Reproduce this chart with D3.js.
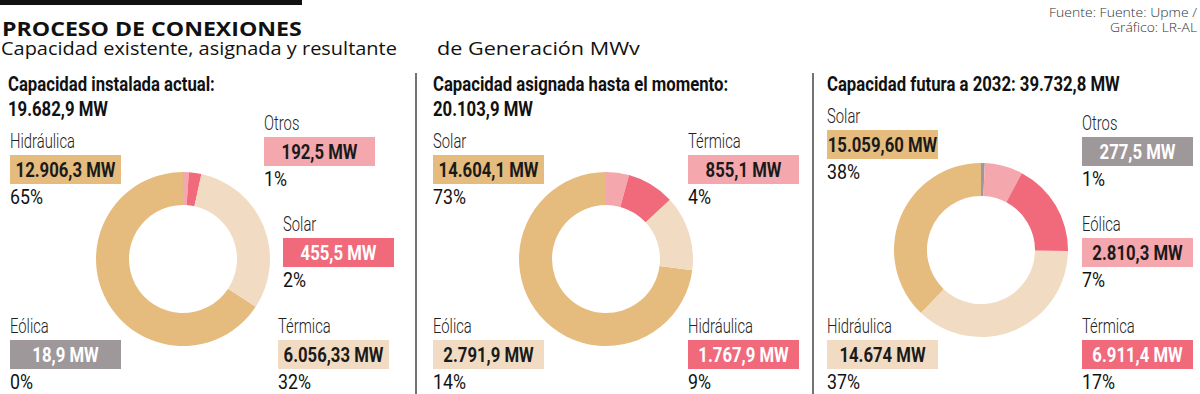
<!DOCTYPE html>
<html><head><meta charset="utf-8">
<script src="https://cdn.jsdelivr.net/npm/d3@7/dist/d3.min.js"></script>
<style>
html,body{margin:0;padding:0;background:#fff;}
svg{display:block;}
</style></head>
<body>
<svg id="chart" width="1200" height="394"></svg>
<script>
// ---- DATA ----
const chartTitle = "PROCESO DE CONEXIONES";
const chartSubtitle = "Capacidad existente, asignada y resultante";
const chartSubtitle2 = "de Generación MWv";
const sourceLines = ["Fuente: Fuente: Upme /", "Gráfico: LR-AL"];

const panelTitles = ["Capacidad instalada actual:", "Capacidad asignada hasta el momento:", "Capacidad futura a 2032: 39.732,8 MW"];
const panelTotals = ["19.682,9 MW", "20.103,9 MW", ""];

const categories1 = ["Hidráulica", "Otros", "Solar", "Eólica", "Térmica"];
const values1 = [12906.3, 192.5, 455.5, 18.9, 6056.33];
const valueLabels1 = ["12.906,3 MW", "192,5 MW", "455,5 MW", "18,9 MW", "6.056,33 MW"];
const percents1 = ["65%", "1%", "2%", "0%", "32%"];

const categories2 = ["Solar", "Térmica", "Eólica", "Hidráulica"];
const values2 = [14604.1, 855.1, 2791.9, 1767.9];
const valueLabels2 = ["14.604,1 MW", "855,1 MW", "2.791,9 MW", "1.767,9 MW"];
const percents2 = ["73%", "4%", "14%", "9%"];

const categories3 = ["Solar", "Otros", "Eólica", "Hidráulica", "Térmica"];
const values3 = [15059.6, 277.5, 2810.3, 14674, 6911.4];
const valueLabels3 = ["15.059,60 MW", "277,5 MW", "2.810,3 MW", "14.674 MW", "6.911,4 MW"];
const percents3 = ["38%", "1%", "7%", "37%", "17%"];

// ---- STYLE / LAYOUT ----
const rankColors = ["#E5BC7E", "#F1DCC3", "#F06A7C", "#F4A8AE", "#9F989B"];
const rankTextColors = ["#1a1a1a", "#1a1a1a", "#ffffff", "#1a1a1a", "#ffffff"];
const condFont = "Roboto,'Noto Sans',sans-serif";
const humanist = "'Open Sans','Noto Sans',sans-serif";

const panelLayout = [
  { hx: 8, hy: 91, cx: 183, cy: 259,
    slots: [[10,148],[264,130],[283,231],[10,333],[278,333]] },
  { hx: 433, hy: 91, cx: 606, cy: 259,
    slots: [[433,148],[688,148],[433,333],[688,333]] },
  { hx: 827, hy: 91, cx: 981, cy: 250,
    slots: [[827,123],[1082,130],[1082,231],[827,333],[1082,333]] }
];
const boxW = 111, boxH = 29, rOuter = 87, rInner = 54;

const styles = {
  bold:  { weight: 700, size: 20.5, sample: "12.906,3 MW", target: 100 },
  label: { weight: 300, size: 21,   sample: "Hidráulica",  target: 65 },
  pct:   { weight: 400, size: 20.5, sample: "65%",         target: 33 }
};

const panels = [
  {cats: categories1, vals: values1, labs: valueLabels1, pcts: percents1},
  {cats: categories2, vals: values2, labs: valueLabels2, pcts: percents2},
  {cats: categories3, vals: values3, labs: valueLabels3, pcts: percents3}
];

const svg = d3.select("#chart");

function measure(str, family, weight, size) {
  const t = svg.append("text").style("font-family", family).style("font-weight", weight)
    .style("font-size", size + "px").text(str);
  const w = t.node().getComputedTextLength();
  t.remove();
  return w;
}
Object.values(styles).forEach(s => {
  s.k = s.target / measure(s.sample, condFont, s.weight, s.size);
});

// condensed text: horizontally scaled group
function cText(parent, x, y, str, st, fill, anchor) {
  const g = parent.append("g").attr("transform", `translate(${x},${y}) scale(${st.k},1)`);
  g.append("text").attr("x", 0).attr("y", 0).attr("text-anchor", anchor || "start")
    .style("font-family", condFont).style("font-weight", st.weight).style("font-size", st.size + "px")
    .attr("fill", fill).text(str);
  return g;
}
// fitted text: scale horizontally to target width
function fText(parent, x, y, str, family, weight, size, fill, target, anchor) {
  const k = target / measure(str, family, weight, size);
  const g = parent.append("g").attr("transform", `translate(${x},${y}) scale(${k},1)`);
  g.append("text").attr("text-anchor", anchor || "start")
    .style("font-family", family).style("font-weight", weight).style("font-size", size + "px")
    .attr("fill", fill).text(str);
  return g;
}

// top bar
svg.append("rect").attr("x", 0).attr("y", 0).attr("width", 302).attr("height", 5).attr("fill", "#111");

fText(svg, 2, 36, chartTitle, humanist, 700, 19.5, "#111", 300);
fText(svg, 1, 55, chartSubtitle, humanist, 400, 18.5, "#111", 396);
fText(svg, 437, 55, chartSubtitle2, humanist, 400, 18.5, "#111", 203);

fText(svg, 1197, 17, sourceLines[0], humanist, 300, 13, "#333", 148, "end");
fText(svg, 1197, 32, sourceLines[1], humanist, 300, 13, "#333", 87, "end");

// separators
[416, 813].forEach(x => {
  svg.append("line").attr("x1", x).attr("x2", x).attr("y1", 73).attr("y2", 394)
    .attr("stroke", "#444").attr("stroke-width", 1.5);
});

const arc = d3.arc().innerRadius(rInner).outerRadius(rOuter);

panels.forEach((p, pi) => {
  const L = panelLayout[pi];
  const g = svg.append("g");

  cText(g, L.hx, L.hy, panelTitles[pi], styles.bold, "#111");
  if (panelTotals[pi]) cText(g, L.hx, L.hy + 25, panelTotals[pi], styles.bold, "#111");

  const data = p.cats.map((c, i) => ({cat: c, value: p.vals[i], lab: p.labs[i], pct: p.pcts[i]}));
  data.slice().sort((a, b) => b.value - a.value).forEach((d, r) => { d.rank = r; });

  const pie = d3.pie().value(d => d.value).sort((a, b) => a.value - b.value);
  g.append("g").attr("transform", `translate(${L.cx},${L.cy})`)
    .selectAll("path").data(pie(data)).join("path")
    .attr("d", arc).attr("fill", d => rankColors[d.data.rank]);

  data.forEach((d, i) => {
    const [x, y] = L.slots[i];
    cText(g, x, y, d.cat, styles.label, "#222");
    g.append("rect").attr("x", x).attr("y", y + 7).attr("width", boxW).attr("height", boxH)
      .attr("fill", rankColors[d.rank]);
    cText(g, x + boxW / 2, y + 29, d.lab, styles.bold, rankTextColors[d.rank], "middle");
    cText(g, x, y + 56, d.pct, styles.pct, "#111");
  });
});
</script>
</body></html>
